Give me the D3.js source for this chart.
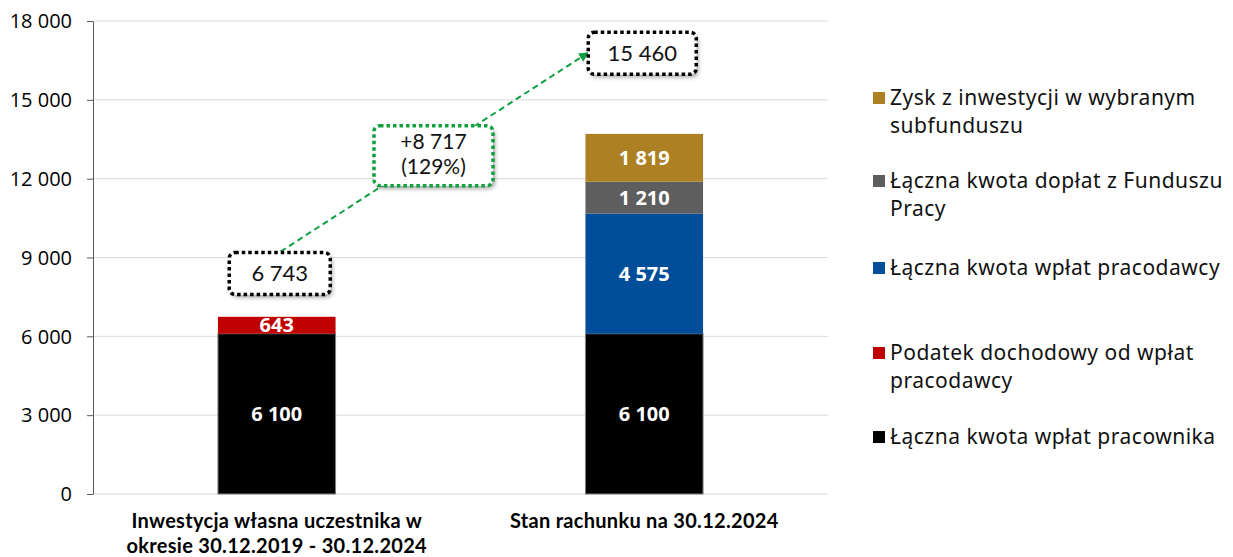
<!DOCTYPE html>
<html>
<head>
<meta charset="utf-8">
<script src="https://cdn.jsdelivr.net/npm/d3@7"></script>
<style>
  body { margin: 0; background: #fff; }
  text { font-family: 'Noto Sans', sans-serif; }
</style>
</head>
<body>
<div id="canvas"></div>
<script>
// categories and series
const categories = [
  ['Inwestycja własna uczestnika w', 'okresie 30.12.2019 - 30.12.2024'],
  ['Stan rachunku na 30.12.2024'],
]
const seriesNames = [
  'Łączna kwota wpłat pracownika',
  'Podatek dochodowy od wpłat pracodawcy',
  'Łączna kwota wpłat pracodawcy',
  'Łączna kwota dopłat z Funduszu Pracy',
  'Zysk z inwestycji w wybranym subfunduszu',
]
const employee = [6100, 6100]
const tax = [643, 0]
const employer = [0, 4575]
const fundusz = [0, 1210]
const profit = [0, 1819]
const yTicks = [0, 3000, 6000, 9000, 12000, 15000, 18000]
const totals = [6743, 15460]
const growth = ['+8 717', '(129%)']

const colors = ['#000000', '#c00000', '#004d99', '#5e5e5e', '#ad8123']
const legendLines = [
  ['Łączna kwota wpłat pracownika'],
  ['Podatek dochodowy od wpłat', 'pracodawcy'],
  ['Łączna kwota wpłat pracodawcy'],
  ['Łączna kwota dopłat z Funduszu', 'Pracy'],
  ['Zysk z inwestycji w wybranym', 'subfunduszu'],
]
const legendY = [437, 353, 268, 181, 98]

const width = 1233
const height = 557
const margin = { top: 21, left: 93, bottom: 63, right: 405 }
const iwidth = width - margin.left - margin.right
const iheight = height - margin.top - margin.bottom

const fmt = (v) => d3.format(',')(v).replace(/,/g, ' ')

const svg = d3.select('#canvas').append('svg')
  .attr('width', width).attr('height', height)

const defs = svg.append('defs')
const sh = defs.append('filter').attr('id', 'shadow')
  .attr('x', '-20%').attr('y', '-20%').attr('width', '150%').attr('height', '160%')
sh.append('feDropShadow').attr('dx', 2).attr('dy', 3).attr('stdDeviation', 2)
  .attr('flood-color', '#000').attr('flood-opacity', 0.35)
defs.append('marker').attr('id', 'arrow')
  .attr('viewBox', '0 0 10 10').attr('refX', 8).attr('refY', 5)
  .attr('markerWidth', 5).attr('markerHeight', 5).attr('orient', 'auto')
  .append('path').attr('d', 'M0,0 L10,5 L0,10 z').attr('fill', '#10a040')

const g = svg.append('g').attr('transform', `translate(${margin.left},${margin.top})`)

const x = d3.scaleBand().domain(d3.range(categories.length)).range([0, iwidth])
const y = d3.scaleLinear().domain([0, 18000]).range([iheight, 0])
const barW = x.bandwidth() * 0.32

// gridlines
g.selectAll('.grid').data(yTicks).enter().append('line')
  .attr('x1', 0).attr('x2', iwidth)
  .attr('y1', (d) => y(d)).attr('y2', (d) => y(d))
  .attr('stroke', '#d9d9d9').attr('stroke-width', 1)

// y axis
const yAxis = g.append('g').call(d3.axisLeft(y).tickValues(yTicks).tickFormat(fmt).tickSize(6).tickSizeOuter(0))
yAxis.select('.domain').attr('stroke', '#595959')
yAxis.selectAll('.tick line').attr('stroke', '#595959')
yAxis.selectAll('.tick text').attr('x', -21).attr('dy', '0.34em')
  .style('font-size', '20px').style('font-family', "'Open Sans', sans-serif").attr('fill', '#000')

// stacked bars
const table = categories.map((c, i) => ({
  i, vals: [employee[i], tax[i], employer[i], fundusz[i], profit[i]],
}))
const stack = d3.stack().keys(d3.range(5)).value((d, k) => d.vals[k])(table)

stack.forEach((layer, k) => {
  layer.forEach((seg, i) => {
    if (seg[1] - seg[0] <= 0) return
    const cx = x(i) + x.bandwidth() / 2
    g.append('rect')
      .attr('x', cx - barW / 2).attr('width', barW)
      .attr('y', y(seg[1])).attr('height', y(seg[0]) - y(seg[1]))
      .attr('fill', colors[k])
      .attr('stroke', k === 0 ? '#7f7f7f' : 'none').attr('stroke-width', 1)
    g.append('text')
      .attr('x', cx).attr('y', (y(seg[0]) + y(seg[1])) / 2)
      .attr('dy', '0.36em').attr('text-anchor', 'middle')
      .attr('fill', '#fff').style('font-size', '20px').style('font-weight', 'bold')
      .style('font-family', "'Open Sans', sans-serif")
      .text(fmt(seg[1] - seg[0]))
  })
})

// category labels
categories.forEach((lines, i) => {
  const cx = x(i) + x.bandwidth() / 2
  const t = g.append('text').attr('text-anchor', 'middle')
    .attr('x', cx).attr('y', iheight + 34)
    .style('font-size', '20px').style('font-weight', 'bold')
    .style('font-family', "'Lato', sans-serif").style('letter-spacing', '0.3px')
  lines.forEach((l, j) => t.append('tspan').attr('x', cx).attr('dy', j ? 25 : 0).text(l))
})

// arrow between totals
const c0 = x(0) + x.bandwidth() / 2
const c1 = x(1) + x.bandwidth() / 2
g.append('line')
  .attr('x1', c0 + 4).attr('y1', y(9000) - 6)
  .attr('x2', c1 - 57).attr('y2', y(17000) + 6)
  .attr('stroke', '#10a040').attr('stroke-width', 2).attr('stroke-dasharray', '6 4')
  .attr('marker-end', 'url(#arrow)')

function callout(cx, cy, w, h, lines, color) {
  const b = g.append('g')
  b.append('rect')
    .attr('x', cx - w / 2).attr('y', cy - h / 2).attr('width', w).attr('height', h)
    .attr('rx', 6).attr('fill', '#fff').attr('filter', 'url(#shadow)')
  b.append('rect')
    .attr('x', cx - w / 2).attr('y', cy - h / 2).attr('width', w).attr('height', h)
    .attr('rx', 6).attr('fill', 'none').attr('stroke', color)
    .attr('stroke-width', 3.5).attr('stroke-dasharray', '3.5 3')
  const multi = lines.length > 1
  const step = 25.5
  const start = multi ? cy - 14.5 : cy
  lines.forEach((l, j) => {
    b.append('text').attr('text-anchor', 'middle')
      .attr('x', cx).attr('y', start + j * step).attr('dy', '0.36em')
      .style('font-size', multi ? '21px' : '22px').style('font-family', "'Lato', sans-serif")
      .attr('fill', '#111').text(l)
  })
}

callout(c0 + 3, y(9000) + 16, 101, 42, [fmt(totals[0])], '#000')
callout((c0 + c1) / 2 - 27, y(12000) - 23, 119, 60, growth, '#10a040')
callout(c1 - 2, y(17000) + 6, 108, 42, [fmt(totals[1])], '#000')

// legend
const legend = svg.append('g')
seriesNames.forEach((s, k) => {
  const ly = legendY[k]
  legend.append('rect').attr('x', 873).attr('y', ly - 6).attr('width', 12).attr('height', 12)
    .attr('fill', colors[k])
  const t = legend.append('text').attr('x', 890).attr('y', ly)
    .style('font-size', '21px').style('letter-spacing', '0.5px').attr('fill', '#111')
  legendLines[k].forEach((l, j) => t.append('tspan').attr('x', 890).attr('dy', j ? 28 : '0.35em').text(l))
})
</script>
</body>
</html>
